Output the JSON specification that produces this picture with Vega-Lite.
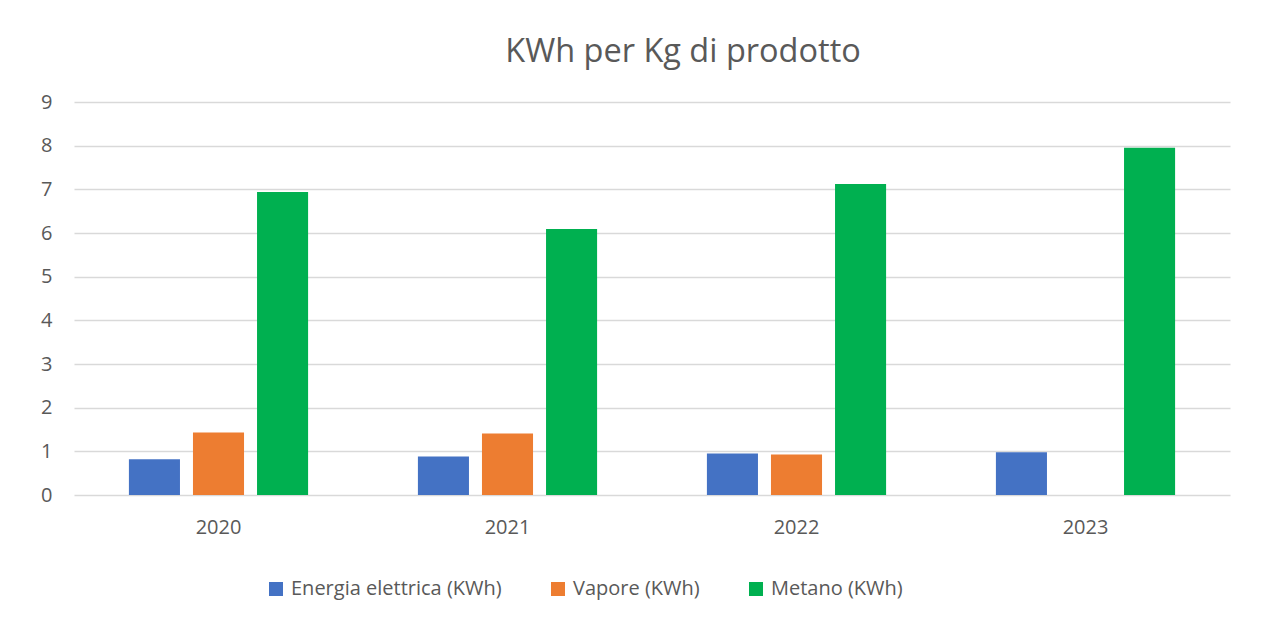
{
  "$schema": "https://vega.github.io/schema/vega-lite/v6.json",
  "autosize": {"type": "none"},
  "width": 1156,
  "height": 393,
  "padding": {"left": 74, "top": 102, "right": 51, "bottom": 131},
  "background": "white",
  "title": {
    "text": "KWh per Kg di prodotto",
    "font": "Open Sans",
    "fontSize": 32.5,
    "fontWeight": "normal",
    "color": "#595959",
    "anchor": "middle",
    "dx": 31,
    "offset": 24
  },
  "data": {
    "values": [
      {"anno": "2020", "serie": "Energia elettrica (KWh)", "valore": 0.82},
      {"anno": "2020", "serie": "Vapore (KWh)", "valore": 1.43},
      {"anno": "2020", "serie": "Metano (KWh)", "valore": 6.94},
      {"anno": "2021", "serie": "Energia elettrica (KWh)", "valore": 0.88},
      {"anno": "2021", "serie": "Vapore (KWh)", "valore": 1.41},
      {"anno": "2021", "serie": "Metano (KWh)", "valore": 6.09},
      {"anno": "2022", "serie": "Energia elettrica (KWh)", "valore": 0.95},
      {"anno": "2022", "serie": "Vapore (KWh)", "valore": 0.93},
      {"anno": "2022", "serie": "Metano (KWh)", "valore": 7.12},
      {"anno": "2023", "serie": "Energia elettrica (KWh)", "valore": 0.98},
      {"anno": "2023", "serie": "Vapore (KWh)", "valore": 0},
      {"anno": "2023", "serie": "Metano (KWh)", "valore": 7.95}
    ]
  },
  "mark": {"type": "bar"},
  "encoding": {
    "x": {
      "field": "anno",
      "type": "nominal",
      "scale": {"paddingInner": 0.38, "paddingOuter": 0.19},
      "axis": {
        "title": null,
        "labelAngle": 0,
        "labelFont": "Open Sans",
        "labelFontSize": 20,
        "labelColor": "#595959",
        "labelPadding": 22,
        "ticks": false,
        "domain": false,
        "grid": false
      }
    },
    "xOffset": {
      "field": "serie",
      "type": "nominal",
      "sort": ["Energia elettrica (KWh)", "Vapore (KWh)", "Metano (KWh)"],
      "scale": {"paddingInner": 0.203, "paddingOuter": 0}
    },
    "y": {
      "field": "valore",
      "type": "quantitative",
      "scale": {"domain": [0, 9], "nice": false},
      "axis": {
        "title": null,
        "values": [0, 1, 2, 3, 4, 5, 6, 7, 8, 9],
        "labelFont": "Open Sans",
        "labelFontSize": 20,
        "labelColor": "#595959",
        "labelPadding": 22,
        "ticks": false,
        "domain": false,
        "grid": true,
        "gridColor": "#d9d9d9",
        "gridWidth": 1.5
      }
    },
    "color": {
      "field": "serie",
      "type": "nominal",
      "sort": ["Energia elettrica (KWh)", "Vapore (KWh)", "Metano (KWh)"],
      "scale": {
        "domain": ["Energia elettrica (KWh)", "Vapore (KWh)", "Metano (KWh)"],
        "range": ["#4472c4", "#ed7d31", "#00b050"]
      },
      "legend": {
        "title": null,
        "orient": "none",
        "direction": "horizontal",
        "legendX": 192,
        "legendY": 477,
        "symbolType": "square",
        "symbolSize": 196,
        "symbolStrokeWidth": 0,
        "symbolOpacity": 1,
        "labelFont": "Open Sans",
        "labelFontSize": 20,
        "labelColor": "#595959",
        "labelOffset": 5,
        "labelLimit": 400,
        "columnPadding": 46
      }
    }
  },
  "config": {
    "view": {"stroke": null}
  }
}
